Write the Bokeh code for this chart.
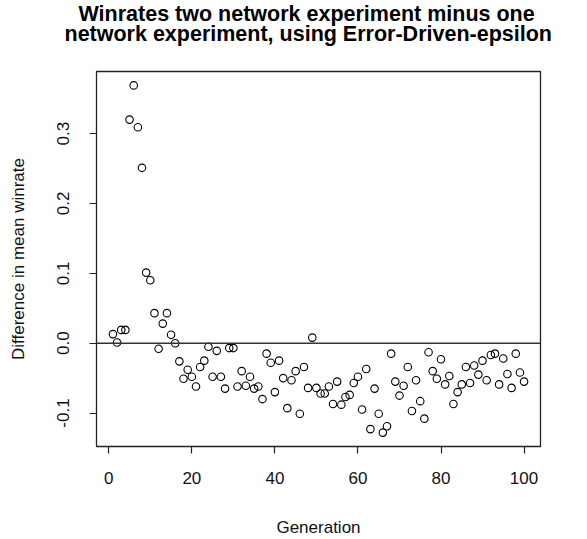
from bokeh.plotting import figure
from bokeh.models import Range1d, FixedTicker, PrintfTickFormatter, Span, Title, ColumnDataSource
from bokeh.embed import file_html
from bokeh.resources import INLINE

generation = list(range(1, 101))
winrate_diff = [
    0.013, 0.001, 0.019, 0.019, 0.320, 0.369, 0.309, 0.251, 0.101, 0.090,
    0.043, -0.008, 0.028, 0.043, 0.012, 0.000, -0.026, -0.051, -0.038, -0.048,
    -0.062, -0.034, -0.025, -0.005, -0.048, -0.011, -0.048, -0.065, -0.007, -0.007,
    -0.062, -0.040, -0.061, -0.048, -0.065, -0.062, -0.080, -0.015, -0.028, -0.070,
    -0.025, -0.050, -0.093, -0.053, -0.040, -0.101, -0.034, -0.064, 0.008, -0.064,
    -0.072, -0.072, -0.062, -0.087, -0.055, -0.088, -0.077, -0.074, -0.057, -0.048,
    -0.095, -0.037, -0.123, -0.065, -0.101, -0.128, -0.119, -0.015, -0.055, -0.075,
    -0.061, -0.034, -0.097, -0.053, -0.083, -0.108, -0.013, -0.040, -0.051, -0.023,
    -0.059, -0.047, -0.087, -0.070, -0.059, -0.034, -0.057, -0.032, -0.045, -0.025,
    -0.053, -0.017, -0.015, -0.059, -0.022, -0.044, -0.064, -0.015, -0.042, -0.055,
]
x_ticks = [0, 20, 40, 60, 80, 100]
y_ticks = [-0.1, 0.0, 0.1, 0.2, 0.3]
title_lines = ["Winrates two network experiment minus one",
               "network experiment, using Error-Driven-epsilon"]
x_label = "Generation"
y_label = "Difference in mean winrate"

FONT = "Liberation Sans"

# R-style 4% range extension
xmin, xmax = min(generation), max(generation)
ymin, ymax = min(winrate_diff), max(winrate_diff)
xe = (xmax - xmin) * 0.04
ye = (ymax - ymin) * 0.04

p = figure(width=587, height=539, output_backend="svg", toolbar_location=None,
           x_range=Range1d(xmin - xe, xmax + xe), y_range=Range1d(ymin - ye, ymax + ye),
           min_border_left=96, min_border_right=47, min_border_top=71, min_border_bottom=91)

p.background_fill_color = "white"
p.border_fill_color = "white"
p.grid.visible = False
p.outline_line_color = "#222222"
p.outline_line_width = 1.3
p.title = None

src = ColumnDataSource(dict(g=generation, w=winrate_diff))
p.scatter("g", "w", source=src, size=7.5, fill_color=None, line_color="black", line_width=1.1)

p.add_layout(Span(location=0, dimension="width", line_color="#333333", line_width=1.5))

for ax in (p.xaxis[0], p.yaxis[0]):
    ax.axis_line_color = None
    ax.major_tick_line_color = "#222222"
    ax.major_tick_line_width = 1.2
    ax.major_tick_out = 7
    ax.major_tick_in = 0
    ax.minor_tick_line_color = None
    ax.major_label_text_font = FONT
    ax.major_label_text_font_size = "17px"
    ax.major_label_text_color = "#111111"
    ax.axis_label_text_font = FONT
    ax.axis_label_text_font_size = "17px"
    ax.axis_label_text_font_style = "normal"
    ax.axis_label_text_color = "#111111"

p.xaxis.ticker = FixedTicker(ticks=x_ticks)
p.yaxis.ticker = FixedTicker(ticks=y_ticks)
p.yaxis.formatter = PrintfTickFormatter(format="%.1f")
p.yaxis.major_label_orientation = "vertical"
p.xaxis.axis_label = x_label
p.yaxis.axis_label = y_label
p.xaxis.major_label_standoff = 18
p.xaxis.axis_label_standoff = 31
p.yaxis.major_label_standoff = 20
p.yaxis.axis_label_standoff = 27

# Title: spacer panel next to the frame, then line 2, then line 1
title_style = dict(text_font=FONT, text_font_size="21.5px", text_font_style="bold",
                   text_color="black", align="left")
spacer = Title(text=" ", standoff=0, **title_style)
t2 = Title(text=title_lines[1], standoff=0, offset=-32, **title_style)
t1 = Title(text=title_lines[0], standoff=0, offset=-18, **title_style)
try:
    t1.standoff = -12.6
except Exception:
    t1.standoff = -13
p.add_layout(spacer, "above")
p.add_layout(t2, "above")
p.add_layout(t1, "above")

open("out.html", "w").write(file_html(p, INLINE))
